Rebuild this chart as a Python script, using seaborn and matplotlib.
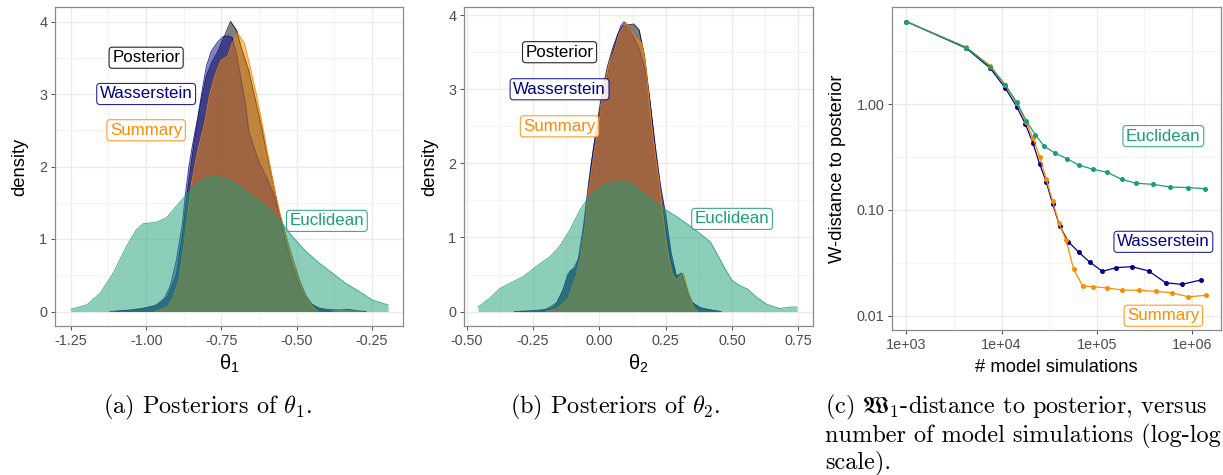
import matplotlib
matplotlib.use("Agg")
import matplotlib.pyplot as plt
import seaborn as sns
import numpy as np

# ---------------- data ----------------
# Posterior density curves of theta_1 (x grid, density)
t1_post_x = [-1.12, -1.05, -1.00, -0.96, -0.93, -0.90, -0.88, -0.86, -0.84, -0.82, -0.80, -0.78, -0.76,
             -0.74, -0.72, -0.70, -0.685, -0.66, -0.64, -0.62, -0.60, -0.58, -0.56, -0.54, -0.52, -0.50,
             -0.48, -0.46, -0.43, -0.40, -0.36, -0.33, -0.30, -0.27]
t1_post_y = [0.0, 0.02, 0.05, 0.09, 0.20, 0.50, 1.05, 1.75, 2.35, 2.85, 3.25, 3.45, 3.60,
             3.80, 4.00, 3.88, 3.65, 3.33, 2.97, 2.60, 2.20, 1.80, 1.40, 1.00, 0.70, 0.45,
             0.25, 0.12, 0.05, 0.03, 0.02, 0.03, 0.01, 0.0]

t1_wass_x = [-1.10, -1.02, -0.97, -0.94, -0.92, -0.90, -0.88, -0.87, -0.858, -0.845, -0.828, -0.812,
             -0.80, -0.784, -0.762, -0.745, -0.73, -0.715, -0.70, -0.685, -0.67, -0.66, -0.645, -0.625,
             -0.60, -0.575, -0.55, -0.53, -0.51, -0.49, -0.47, -0.45, -0.42, -0.38]
t1_wass_y = [0.0, 0.03, 0.08, 0.18, 0.35, 0.70, 1.20, 1.60, 2.00, 2.32, 2.69, 3.10,
             3.38, 3.59, 3.72, 3.79, 3.80, 3.78, 3.55, 3.20, 2.85, 2.50, 2.30, 2.05,
             1.85, 1.60, 1.25, 0.95, 0.68, 0.42, 0.22, 0.10, 0.03, 0.0]

t1_summ_x = [-0.97, -0.93, -0.91, -0.89, -0.875, -0.86, -0.85, -0.839, -0.828, -0.806, -0.79, -0.773,
             -0.751, -0.729, -0.715, -0.696, -0.674, -0.658, -0.635, -0.613, -0.597, -0.586, -0.57,
             -0.55, -0.53, -0.51, -0.49, -0.47, -0.45, -0.43]
t1_summ_y = [0.0, 0.06, 0.20, 0.45, 0.90, 1.40, 1.75, 2.00, 2.23, 2.60, 2.97, 3.24,
             3.47, 3.52, 3.70, 3.84, 3.70, 3.43, 3.01, 2.55, 2.18, 1.95, 1.60,
             1.25, 0.95, 0.68, 0.42, 0.20, 0.08, 0.0]

t1_eucl_x = [-1.25, -1.197, -1.153, -1.109, -1.065, -1.032, -1.010, -0.966, -0.933, -0.900, -0.867,
             -0.823, -0.784, -0.735, -0.690, -0.646, -0.602, -0.558, -0.514, -0.470, -0.426, -0.382,
             -0.338, -0.294, -0.250, -0.197]
t1_eucl_y = [0.03, 0.09, 0.25, 0.53, 0.90, 1.13, 1.21, 1.23, 1.29, 1.45, 1.61,
             1.79, 1.87, 1.84, 1.72, 1.59, 1.45, 1.26, 1.03, 0.83, 0.67, 0.53,
             0.39, 0.28, 0.16, 0.09]

# Posterior density curves of theta_2
t2_post_x = [-0.32, -0.25, -0.20, -0.16, -0.13, -0.11, -0.09, -0.07, -0.05, -0.03, -0.01, 0.01, 0.03,
             0.05, 0.07, 0.09, 0.11, 0.13, 0.15, 0.17, 0.19, 0.21, 0.23, 0.25, 0.27, 0.29, 0.31,
             0.33, 0.35, 0.38, 0.42, 0.46]
t2_post_y = [0.0, 0.01, 0.03, 0.12, 0.35, 0.55, 0.58, 0.80, 1.35, 2.00, 2.50, 2.95, 3.30,
             3.55, 3.75, 3.86, 3.87, 3.88, 3.80, 3.45, 2.85, 2.20, 1.60, 1.15, 0.70, 0.48, 0.52,
             0.30, 0.12, 0.05, 0.02, 0.0]

t2_wass_x = [-0.30, -0.22, -0.17, -0.14, -0.12, -0.10, -0.08, -0.06, -0.04, -0.02, 0.00, 0.02, 0.04,
             0.06, 0.08, 0.093, 0.11, 0.13, 0.15, 0.17, 0.19, 0.21, 0.23, 0.25, 0.27, 0.29, 0.31,
             0.33, 0.35, 0.38, 0.42, 0.45]
t2_wass_y = [0.0, 0.01, 0.06, 0.25, 0.50, 0.57, 0.70, 1.15, 1.75, 2.25, 2.65, 3.00, 3.35,
             3.62, 3.85, 3.91, 3.85, 3.70, 3.55, 3.30, 2.85, 2.25, 1.70, 1.30, 0.80, 0.48, 0.50,
             0.28, 0.12, 0.05, 0.02, 0.0]

t2_summ_x = [-0.20, -0.16, -0.12, -0.09, -0.07, -0.054, -0.042, -0.025, -0.010, 0.003, 0.021, 0.038,
             0.053, 0.075, 0.101, 0.12, 0.14, 0.16, 0.172, 0.185, 0.198, 0.210, 0.219, 0.235, 0.254,
             0.273, 0.29, 0.305, 0.317, 0.336, 0.355, 0.37]
t2_summ_y = [0.0, 0.04, 0.16, 0.45, 0.75, 1.15, 1.60, 2.00, 2.36, 2.67, 3.08, 3.35,
             3.48, 3.75, 3.90, 3.78, 3.68, 3.62, 3.39, 2.94, 2.49, 2.14, 1.91, 1.46, 0.88,
             0.52, 0.42, 0.48, 0.52, 0.25, 0.05, 0.0]

t2_eucl_x = [-0.457, -0.413, -0.375, -0.338, -0.287, -0.237, -0.186, -0.149, -0.111, -0.073, -0.035,
             0.003, 0.053, 0.091, 0.128, 0.179, 0.242, 0.292, 0.343, 0.38, 0.418, 0.44, 0.47, 0.50,
             0.53, 0.56, 0.59, 0.63, 0.68, 0.72, 0.745]
t2_eucl_y = [0.06, 0.18, 0.31, 0.38, 0.47, 0.61, 0.74, 0.88, 1.10, 1.37, 1.57,
             1.69, 1.75, 1.76, 1.71, 1.55, 1.39, 1.28, 1.15, 1.05, 0.94, 0.80, 0.60, 0.42,
             0.35, 0.30, 0.20, 0.10, 0.04, 0.06, 0.06]

# W-distance to the posterior versus number of model simulations
sims_eucl = [1000, 4270, 7620, 10960, 14490, 18150, 22600, 27850, 36700, 48700, 65000, 91200,
             129000, 182000, 260000, 386000, 592000, 908000, 1380000]
dist_eucl = [6.06, 3.44, 2.27, 1.52, 1.04, 0.70, 0.516, 0.403, 0.344, 0.306, 0.265, 0.243,
             0.227, 0.195, 0.179, 0.175, 0.165, 0.163, 0.159]

sims_wass = [1000, 4266, 7620, 10970, 14420, 17780, 21400, 25120, 29520, 34400, 40750, 50230,
             65000, 84100, 114300, 160300, 234300, 350600, 528700, 784900, 1240000]
dist_wass = [6.06, 3.39, 2.19, 1.42, 0.95, 0.652, 0.428, 0.272, 0.184, 0.114, 0.0706, 0.0502,
             0.0397, 0.0322, 0.0263, 0.0285, 0.0291, 0.0265, 0.0205, 0.0198, 0.0218]

sims_summ = [1000, 4266, 7620, 10970, 14420, 18070, 21400, 25120, 29520, 34400, 39800, 47500,
             57200, 71100, 92000, 129000, 185500, 279700, 415000, 611000, 914000, 1410000]
dist_summ = [6.06, 3.46, 2.31, 1.51, 1.02, 0.686, 0.477, 0.320, 0.195, 0.121, 0.0759, 0.052,
             0.0274, 0.0191, 0.0188, 0.0183, 0.0175, 0.0174, 0.0170, 0.0165, 0.0151, 0.0156]

# tick positions and labels
t1_ticks = [-1.25, -1.00, -0.75, -0.50, -0.25]
t1_ticklabels = ["-1.25", "-1.00", "-0.75", "-0.50", "-0.25"]
t2_ticks = [-0.50, -0.25, 0.00, 0.25, 0.50, 0.75]
t2_ticklabels = ["-0.50", "-0.25", "0.00", "0.25", "0.50", "0.75"]
dens_ticks = [0, 1, 2, 3, 4]
sim_ticks = [1e3, 1e4, 1e5, 1e6]
sim_ticklabels = ["1e+03", "1e+04", "1e+05", "1e+06"]
dist_ticks = [1.0, 0.1, 0.01]
dist_ticklabels = ["1.00", "0.10", "0.01"]

# method names, colours and label anchor points
methods = ["Posterior", "Wasserstein", "Summary", "Euclidean"]
colors = {"Posterior": "#000000", "Wasserstein": "#00008B",
          "Summary": "#FF8C00", "Euclidean": "#1B9E77"}
t1_label_pos = {"Posterior": (-1.0, 3.5), "Wasserstein": (-1.0, 3.0),
                "Summary": (-1.0, 2.5), "Euclidean": (-0.40, 1.25)}
t2_label_pos = {"Posterior": (-0.15, 3.5), "Wasserstein": (-0.15, 3.0),
                "Summary": (-0.15, 2.5), "Euclidean": (0.50, 1.25)}
dist_label_pos = {"Euclidean": (5e5, 0.5), "Wasserstein": (5e5, 0.05), "Summary": (5e5, 0.01)}

# ---------------- style ----------------
sns.set_theme(style="white")
plt.rcParams["font.family"] = ["Liberation Sans", "DejaVu Sans"]
plt.rcParams["axes.unicode_minus"] = False
plt.rcParams["mathtext.fontset"] = "cm"

W, H = 1223, 475
fig = plt.figure(figsize=(W / 100, H / 100), dpi=100)


def make_axes(left, right, top, bottom):
    return fig.add_axes([left / W, 1 - bottom / H, (right - left) / W, (bottom - top) / H])


def ggtheme(ax):
    ax.set_facecolor("white")
    for s in ax.spines.values():
        s.set_color("#8a8a8a")
        s.set_linewidth(0.9)
    ax.grid(True, which="major", color="#ebebeb", linewidth=1.0)
    ax.grid(True, which="minor", color="#f3f3f3", linewidth=0.6)
    ax.set_axisbelow(True)
    ax.tick_params(which="major", direction="out", length=3, width=0.6, color="#333333",
                   labelsize=10.4, labelcolor="#4d4d4d", pad=2.5, bottom=True, left=True)
    ax.tick_params(which="minor", length=0, bottom=False, left=False)


def label_box(ax, x, y, text, color):
    ax.text(x, y, text, ha="center", va="center", fontsize=12.2, color=color, zorder=10,
            bbox=dict(boxstyle="round,pad=0.18,rounding_size=0.2", facecolor="white",
                      edgecolor=color, linewidth=0.8, alpha=0.85))


def density_panel(ax, curves, label_pos, xlim, ylim, xticks, xticklabels, xminor, xlabel):
    z = 2
    for name in methods:
        xs, ys = curves[name]
        ax.fill_between(xs, ys, 0, color=colors[name], alpha=0.5, linewidth=0, zorder=z)
        sns.lineplot(x=xs, y=ys, ax=ax, color=colors[name], linewidth=0.7, alpha=0.8,
                     sort=False, estimator=None, zorder=z + 0.5)
        z += 1
    for name in methods:
        label_box(ax, *label_pos[name], name, colors[name])
    ax.set_xlim(*xlim)
    ax.set_ylim(*ylim)
    ax.set_xticks(xticks)
    ax.set_xticklabels(xticklabels)
    ax.set_xticks(xminor, minor=True)
    ax.set_yticks(dens_ticks)
    ax.set_yticklabels([str(t) for t in dens_ticks])
    ax.set_yticks([0.5, 1.5, 2.5, 3.5], minor=True)
    ax.set_xlabel(xlabel, fontsize=14.5, color="black")
    ax.set_ylabel("density", fontsize=13.2, color="black")
    ggtheme(ax)


# ---------------- panel (a): theta_1 ----------------
ax1 = make_axes(55, 403, 7, 326)
density_panel(ax1,
              {"Posterior": (t1_post_x, t1_post_y), "Wasserstein": (t1_wass_x, t1_wass_y),
               "Summary": (t1_summ_x, t1_summ_y), "Euclidean": (t1_eucl_x, t1_eucl_y)},
              t1_label_pos, (-1.3025, -0.1475), (-0.2, 4.2), t1_ticks, t1_ticklabels,
              [-1.125, -0.875, -0.625, -0.375], r"$\mathregular{θ_1}$")
ax1.yaxis.set_label_coords((28 - 55) / 348, 0.5)
ax1.xaxis.set_label_coords(0.5, (326 - 353) / 319)

# ---------------- panel (b): theta_2 ----------------
ax2 = make_axes(464, 813, 7, 326)
density_panel(ax2,
              {"Posterior": (t2_post_x, t2_post_y), "Wasserstein": (t2_wass_x, t2_wass_y),
               "Summary": (t2_summ_x, t2_summ_y), "Euclidean": (t2_eucl_x, t2_eucl_y)},
              t2_label_pos, (-0.51, 0.805), (-0.195, 4.11), t2_ticks, t2_ticklabels,
              [-0.375, -0.125, 0.125, 0.375, 0.625], r"$\mathregular{θ_2}$")
ax2.yaxis.set_label_coords((438 - 464) / 349, 0.5)
ax2.xaxis.set_label_coords(0.5, (326 - 353) / 319)

# ---------------- panel (c): distance vs simulations ----------------
ax3 = make_axes(892, 1221, 7, 330)
for sims, dist, name in [(sims_wass, dist_wass, "Wasserstein"),
                         (sims_summ, dist_summ, "Summary"),
                         (sims_eucl, dist_eucl, "Euclidean")]:
    sns.lineplot(x=sims, y=dist, ax=ax3, color=colors[name], linewidth=0.9,
                 marker="o", markersize=3.6, markeredgewidth=0, sort=False, estimator=None,
                 zorder=3)
ax3.set_xscale("log")
ax3.set_yscale("log")
ax3.set_xlim(10 ** 2.85, 10 ** 6.304)
ax3.set_ylim(10 ** -2.135, 10 ** 0.92)
ax3.set_xticks(sim_ticks)
ax3.set_xticklabels(sim_ticklabels)
ax3.set_xticks([10 ** 3.5, 10 ** 4.5, 10 ** 5.5], minor=True)
ax3.set_xticklabels([], minor=True)
ax3.set_yticks(dist_ticks)
ax3.set_yticklabels(dist_ticklabels)
ax3.set_yticks([10 ** -1.5, 10 ** -0.5, 10 ** 0.5], minor=True)
ax3.set_yticklabels([], minor=True)
for name, (x, y) in dist_label_pos.items():
    label_box(ax3, x, y, name, colors[name])
ax3.set_xlabel("# model simulations", fontsize=13.2, color="black")
ax3.set_ylabel("W-distance to posterior", fontsize=13.2, color="black")
ggtheme(ax3)
ax3.yaxis.set_label_coords((846 - 892) / 329, 0.5)
ax3.xaxis.set_label_coords(0.5, (330 - 359) / 323)

# ---------------- sub-captions ----------------
cap = dict(fontsize=17.5, family="cmr10", color="black", va="baseline", ha="left")
fig.text(103 / W, 1 - 413 / H, r"(a) Posteriors of $\theta_1$.", **cap)
fig.text(510 / W, 1 - 413 / H, r"(b) Posteriors of $\theta_2$.", **cap)
fig.text(825 / W, 1 - 413 / H, r"(c) $\mathfrak{W}_1$-distance to posterior, versus", **cap)
fig.text(825 / W, 1 - 442 / H, r"number of model simulations (log-log", **cap)
fig.text(825 / W, 1 - 468 / H, r"scale).", **cap)

fig.savefig("out.png", dpi=100)
